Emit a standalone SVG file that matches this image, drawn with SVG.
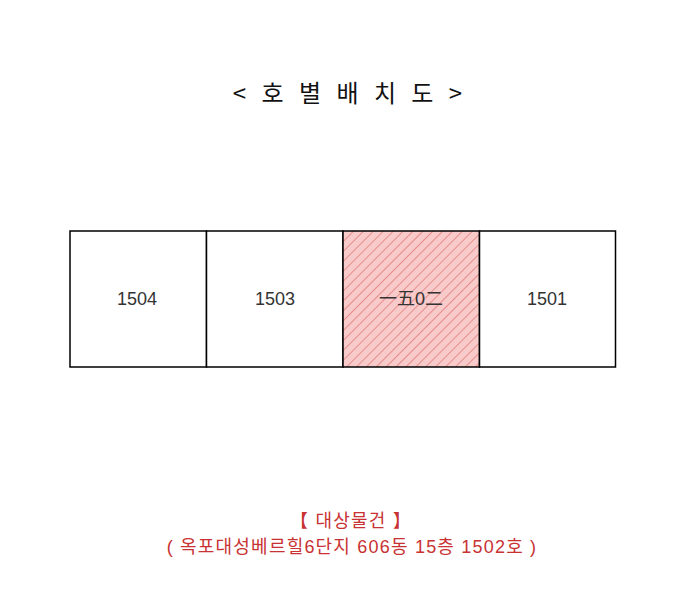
<svg xmlns="http://www.w3.org/2000/svg" width="689" height="600" viewBox="0 0 689 600">
<style>
.cell{fill:#fff;stroke:#000;stroke-width:1.5}
.lbl{font-family:"Liberation Sans","Noto Sans CJK KR",sans-serif;font-size:18px;fill:#333;text-anchor:middle}
.title{font-family:"Noto Sans CJK KR",sans-serif;font-size:24px;fill:#111;text-anchor:middle;letter-spacing:5px}
.red{font-family:"Liberation Sans","Noto Sans CJK KR",sans-serif;font-size:18px;fill:#c83232;text-anchor:middle;letter-spacing:1.2px}
</style>
<defs>
<pattern id="hatch" patternUnits="userSpaceOnUse" width="7" height="7" patternTransform="rotate(-45)">
<rect width="7" height="7" fill="#f8caca"/>
<line x1="0" y1="0" x2="7" y2="0" stroke="#d04040" stroke-width="0.9"/>
</pattern>
</defs>
<rect width="689" height="600" fill="#fff"/>
<text class="title" x="350" y="102">&lt; 호 별 배 치 도 &gt;</text>
<g id="u1504"><rect class="cell" x="70" y="231" width="136.5" height="136"/><text class="lbl" x="137" y="305">1504</text></g>
<g id="u1503"><rect class="cell" x="206.5" y="231" width="136.5" height="136"/><text class="lbl" x="275" y="305">1503</text></g>
<g id="u1502"><rect class="cell" x="343" y="231" width="136.5" height="136" style="fill:url(#hatch)"/><text class="lbl" x="411" y="305">一五0二</text></g>
<g id="u1501"><rect class="cell" x="479.5" y="231" width="136" height="136"/><text class="lbl" x="547" y="305">1501</text></g>
<g id="connectors"/>
<text class="red" x="351" y="527">【 대상물건 】</text>
<text class="red" x="352" y="553">( 옥포대성베르힐6단지 606동 15층 1502호 )</text>
</svg>
